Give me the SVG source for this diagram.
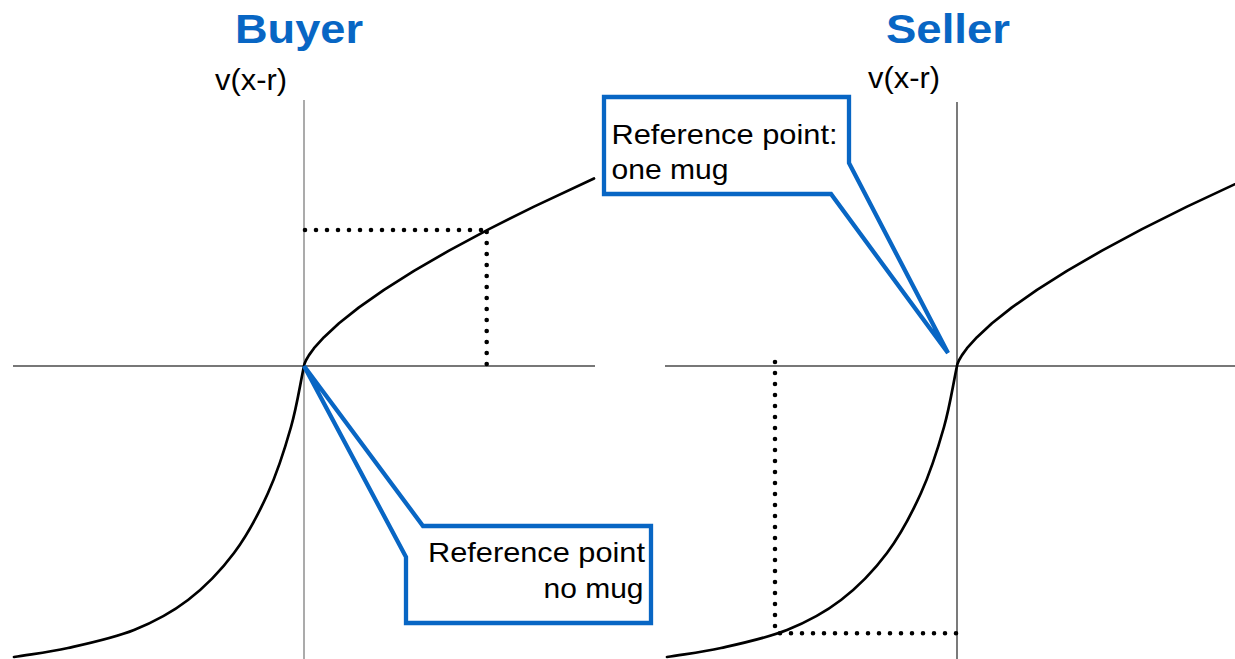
<svg xmlns="http://www.w3.org/2000/svg" xmlns:xlink="http://www.w3.org/1999/xlink" width="1235" height="659" viewBox="0 0 1235 659">
  <style>
    .title { font-family: "Liberation Sans", Arial, sans-serif; font-weight: bold; font-size: 40px; fill: #0866C4; }
    .axislabel { font-family: "Liberation Sans", Arial, sans-serif; font-size: 29px; fill: #000; }
    .note { font-family: "Liberation Sans", Arial, sans-serif; font-size: 28px; fill: #000; }
    .axis { stroke: #4a4a4a; stroke-width: 1.3; fill: none; }
    .axis-v { stroke: #8f8f8f; stroke-width: 1.5; fill: none; }
    .curve { stroke: #000; stroke-width: 2.7; fill: none; stroke-linejoin: round; stroke-linecap: round; }
    .guide { stroke: #000; stroke-width: 4.6; fill: none; stroke-dasharray: 0 11; stroke-linecap: round; }
    .callout { fill: #fff; stroke: #0866C4; stroke-width: 4.3; stroke-linejoin: miter; stroke-miterlimit: 2; }
  </style>
  <defs>
    <!-- value function: concave for gains, steep convex for losses, origin at (0,0) -->
    <path id="valueCurve" d="M0,0 L0.5,-2.2 L2,-5.8 L5,-10.9 L10,-17.8 L20,-28.8 L35,-42.7 L55,-58.6 L80,-76.1 L110,-95.1 L145,-115.4 L185,-136.9 L230,-159.4 L290,-187.5 M0,0 C-4.3,20.3 -7,39.8 -13,61 C-19,82.2 -26.5,106 -36,127 C-45.5,148 -56.7,169.2 -70,187 C-83.3,204.8 -99.3,221.2 -116,234 C-132.7,246.8 -150,256 -170,264 C-190,272 -216,277.5 -236,282 C-256,286.5 -272,288 -290,291"/>
  </defs>

  <!-- Buyer panel -->
  <g id="buyer-panel">
    <text class="title" x="235" y="42.7" textLength="128" lengthAdjust="spacingAndGlyphs">Buyer</text>
    <text class="axislabel" x="215" y="89.5" textLength="72" lengthAdjust="spacingAndGlyphs">v(x-r)</text>
    <line class="axis-v" x1="304" y1="100" x2="304" y2="659"/>
    <line class="axis" x1="13" y1="366" x2="595" y2="366"/>
    <use xlink:href="#valueCurve" class="curve" transform="translate(304,366)"/>
    <line class="guide" x1="305" y1="230" x2="481.5" y2="230"/>
    <line class="guide" x1="486.7" y1="232" x2="486.7" y2="364.5"/>
  </g>

  <!-- Seller panel -->
  <g id="seller-panel">
    <text class="title" x="886" y="42.7" textLength="124" lengthAdjust="spacingAndGlyphs">Seller</text>
    <text class="axislabel" x="868" y="88" textLength="72" lengthAdjust="spacingAndGlyphs">v(x-r)</text>
    <line class="axis" x1="957" y1="102" x2="957" y2="659" style="stroke:#333"/>
    <line class="axis" x1="665" y1="366" x2="1235" y2="366"/>
    <use xlink:href="#valueCurve" class="curve" transform="translate(957,366)"/>
    <line class="guide" x1="775" y1="362" x2="775" y2="626.5"/>
    <line class="guide" x1="780" y1="633.3" x2="956.5" y2="633.3"/>
  </g>

  <!-- Callouts -->
  <g id="callout-no-mug">
    <path class="callout" d="M304,366 L423,526 L651,526 L651,623 L406,623 L406,557 Z"/>
    <text class="note" x="428" y="561.7" textLength="217" lengthAdjust="spacingAndGlyphs">Reference point</text>
    <text class="note" x="543.5" y="598.3" textLength="100" lengthAdjust="spacingAndGlyphs">no mug</text>
  </g>
  <g id="callout-one-mug">
    <path class="callout" d="M604,97 L849,97 L849,163 L948,353 L831,194 L604,194 Z"/>
    <text class="note" x="611.5" y="143.8" textLength="226" lengthAdjust="spacingAndGlyphs">Reference point:</text>
    <text class="note" x="611.5" y="179.3" textLength="117" lengthAdjust="spacingAndGlyphs">one mug</text>
  </g>
</svg>
